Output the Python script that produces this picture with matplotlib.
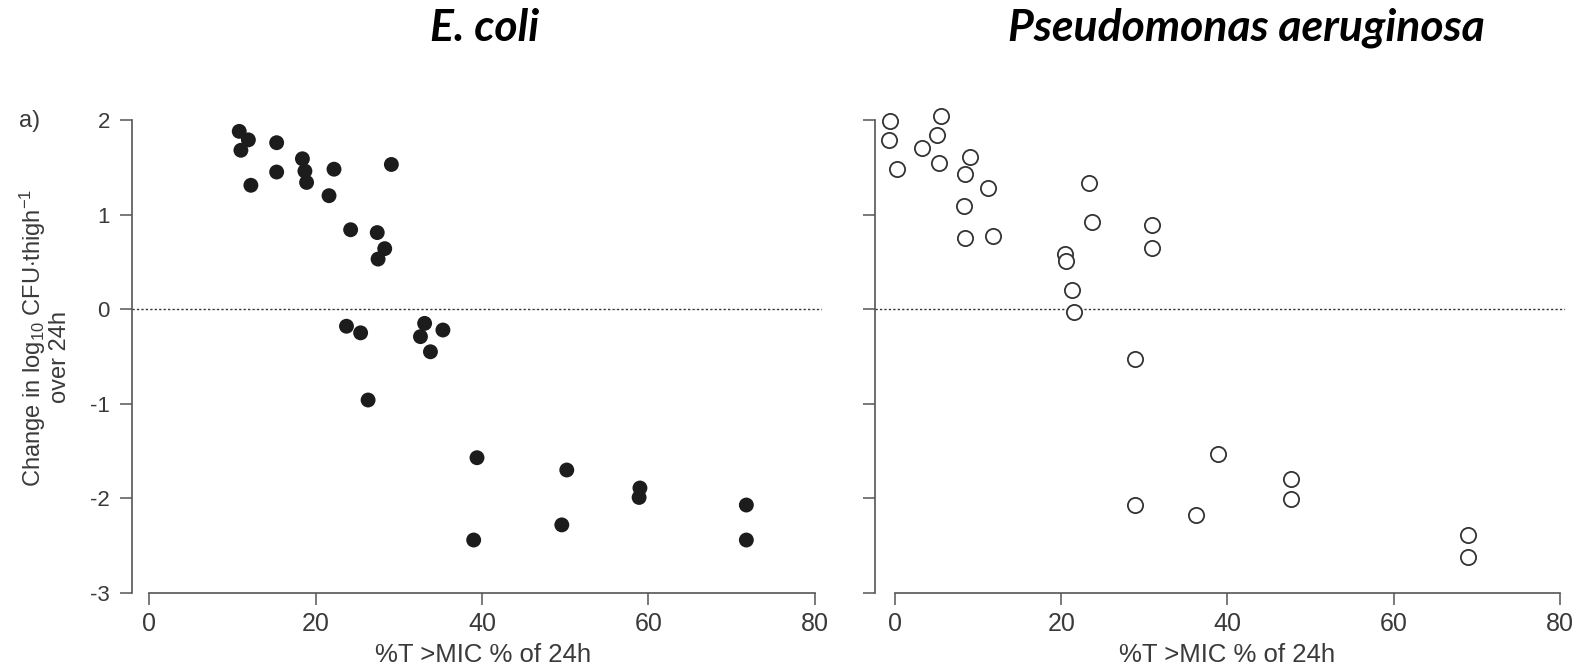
import matplotlib
matplotlib.use("Agg")
import matplotlib.pyplot as plt

# values (x = %T>MIC, y = change in log10 CFU/thigh)
ecoli_x = [10.8, 11.9, 11.0, 12.2, 15.3, 15.3, 18.4, 18.7, 18.9, 22.2, 21.6,
           29.1, 24.2, 27.4, 28.3, 27.5, 23.7, 25.4, 33.1, 32.6, 35.3, 33.8,
           26.3, 39.4, 39.0, 50.2, 49.6, 59.0, 58.9, 71.8, 71.8]
ecoli_y = [1.88, 1.79, 1.68, 1.31, 1.76, 1.45, 1.59, 1.46, 1.34, 1.48, 1.20,
           1.53, 0.84, 0.81, 0.64, 0.53, -0.18, -0.25, -0.15, -0.29, -0.22, -0.45,
           -0.96, -1.57, -2.44, -1.70, -2.28, -1.89, -1.99, -2.07, -2.44]

pseudo_x = [-0.6, -0.7, 0.2, 3.2, 5.5, 5.1, 5.3, 9.0, 8.4, 11.2, 8.3, 8.4,
            11.8, 23.4, 23.7, 20.5, 20.6, 21.3, 21.5, 30.9, 30.9, 28.9, 38.9,
            47.6, 47.6, 28.9, 36.2, 68.9, 68.9]
pseudo_y = [1.99, 1.79, 1.48, 1.70, 2.04, 1.84, 1.55, 1.61, 1.43, 1.28, 1.09,
            0.75, 0.77, 1.33, 0.92, 0.58, 0.51, 0.20, -0.03, 0.89, 0.65, -0.53,
            -1.53, -1.79, -2.01, -2.07, -2.18, -2.39, -2.62]

x_ticks = [0, 20, 40, 60, 80]
y_ticks = [-3, -2, -1, 0, 1, 2]
x_label = "%T >MIC % of 24h"

plt.rcParams['font.family'] = ['Liberation Sans', 'DejaVu Sans']
plt.rcParams['mathtext.fontset'] = 'custom'
plt.rcParams['mathtext.rm'] = 'Liberation Sans'
plt.rcParams['mathtext.it'] = 'Liberation Sans:italic'
plt.rcParams['axes.unicode_minus'] = False

W, H = 1593, 668
fig = plt.figure(figsize=(W / 100, H / 100), dpi=100)

axis_col = '#555555'
text_col = '#3a3a3a'


def px_axes(x0, x1, y_top, y_bot):
    return fig.add_axes([x0 / W, 1 - y_bot / H, (x1 - x0) / W, (y_bot - y_top) / H])


def style(ax, xlim, show_ylabels):
    ax.set_xlim(*xlim)
    ax.set_ylim(-3, 2)
    for s in ['top', 'right']:
        ax.spines[s].set_visible(False)
    ax.spines['bottom'].set_bounds(0, 80)
    ax.spines['left'].set_bounds(-3, 2)
    for s in ['bottom', 'left']:
        ax.spines[s].set_color(axis_col)
        ax.spines[s].set_linewidth(1.2)
    ax.set_xticks(x_ticks)
    ax.set_yticks(y_ticks)
    ax.tick_params(axis='both', direction='out', length=8.5, width=1.1,
                   color=axis_col, labelcolor=text_col)
    ax.tick_params(axis='x', labelsize=18, pad=5)
    ax.tick_params(axis='y', labelsize=16, pad=7.5)
    if not show_ylabels:
        ax.set_yticklabels([])
    ax.axhline(0, color='#333333', linestyle=(0, (1.6, 1.6)), linewidth=1.0)


# E. coli (filled)
ax1 = px_axes(132, 822, 120, 593)
style(ax1, (-2.1, 80.9), True)
ax1.scatter(ecoli_x, ecoli_y, s=115, color='#1c1c1c', edgecolors='none',
            clip_on=False, zorder=3)

# Pseudomonas (open)
ax2 = px_axes(875, 1565, 120, 593)
style(ax2, (-2.4, 80.6), False)
ax2.scatter(pseudo_x, pseudo_y, s=120, facecolors='white', edgecolors='#333333',
            linewidths=1.3, clip_on=False, zorder=3)

# titles
fig.text(485 / W, 1 - 28 / H, "E. coli", fontsize=32, fontweight='bold',
         fontstyle='italic', family=['Lato', 'DejaVu Sans'], ha='center', va='center')
fig.text(1246 / W, 1 - 28 / H, "Pseudomonas aeruginosa", fontsize=32, fontweight='bold',
         fontstyle='italic', family=['Lato', 'DejaVu Sans'], ha='center', va='center')

# panel letter and axis labels
fig.text(30 / W, 1 - 121 / H, "a)", fontsize=17, color=text_col, ha='center', va='center')
fig.text(33 / W, 1 - 338 / H, r"Change in log$_{10}$ CFU$\cdot$thigh$^{-1}$",
         fontsize=17, color=text_col, rotation=90, ha='center', va='center')
fig.text(60 / W, 1 - 357 / H, "over 24h", fontsize=17, color=text_col,
         rotation=90, ha='center', va='center')
fig.text(483 / W, 1 - 655 / H, x_label, fontsize=18.5, color=text_col,
         ha='center', va='center')
fig.text(1227 / W, 1 - 655 / H, x_label, fontsize=18.5, color=text_col,
         ha='center', va='center')

fig.savefig('out.png', dpi=100)
